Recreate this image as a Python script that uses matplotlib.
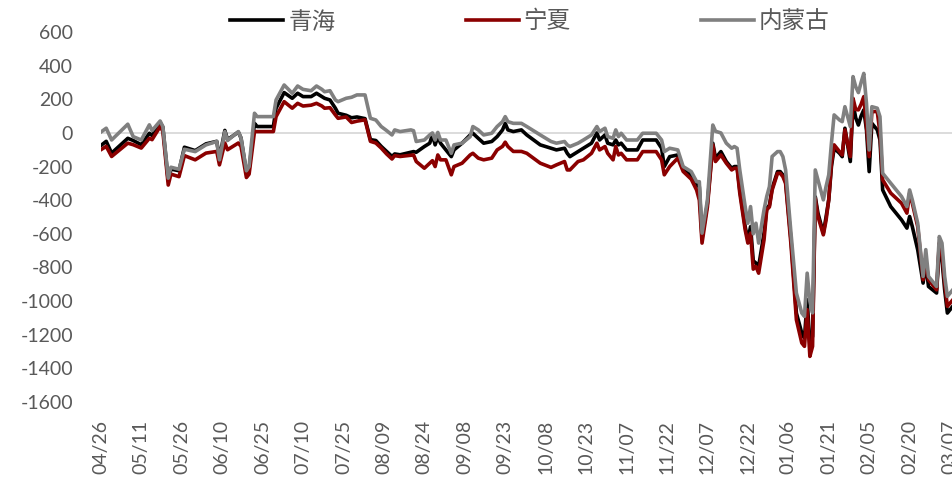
import matplotlib
matplotlib.use('Agg')
import matplotlib.pyplot as plt
import matplotlib.dates as mdates
import pandas as pd

# --- Data ---
dates = [
    '2022-04-26', '2022-04-28', '2022-04-30', '2022-05-06', '2022-05-08', '2022-05-11', '2022-05-14', '2022-05-15',
    '2022-05-18', '2022-05-19', '2022-05-21', '2022-05-22', '2022-05-25', '2022-05-27', '2022-05-31', '2022-06-04',
    '2022-06-08', '2022-06-09', '2022-06-11', '2022-06-12', '2022-06-16', '2022-06-17', '2022-06-19', '2022-06-20',
    '2022-06-22', '2022-06-23', '2022-06-29', '2022-06-30', '2022-07-03', '2022-07-06', '2022-07-08', '2022-07-10',
    '2022-07-13', '2022-07-15', '2022-07-17', '2022-07-18', '2022-07-20', '2022-07-22', '2022-07-23', '2022-07-26',
    '2022-07-28', '2022-07-30', '2022-08-02', '2022-08-04', '2022-08-06', '2022-08-08', '2022-08-10', '2022-08-12',
    '2022-08-13', '2022-08-15', '2022-08-19', '2022-08-20', '2022-08-21', '2022-08-24', '2022-08-26', '2022-08-27',
    '2022-08-28', '2022-08-29', '2022-08-30', '2022-09-01', '2022-09-03', '2022-09-04', '2022-09-07', '2022-09-10',
    '2022-09-11', '2022-09-13', '2022-09-15', '2022-09-18', '2022-09-20', '2022-09-22', '2022-09-23', '2022-09-24',
    '2022-09-26', '2022-09-29', '2022-10-01', '2022-10-06', '2022-10-10', '2022-10-12', '2022-10-15', '2022-10-16',
    '2022-10-17', '2022-10-20', '2022-10-22', '2022-10-25', '2022-10-27', '2022-10-28', '2022-10-30', '2022-10-31',
    '2022-11-02', '2022-11-03', '2022-11-04', '2022-11-05', '2022-11-07', '2022-11-11', '2022-11-13', '2022-11-18',
    '2022-11-20', '2022-11-21', '2022-11-23', '2022-11-26', '2022-11-28', '2022-12-01', '2022-12-03', '2022-12-04',
    '2022-12-05', '2022-12-07', '2022-12-09', '2022-12-10', '2022-12-12', '2022-12-14', '2022-12-16', '2022-12-17',
    '2022-12-18', '2022-12-19', '2022-12-21', '2022-12-22', '2022-12-23', '2022-12-24', '2022-12-25', '2022-12-26',
    '2022-12-28', '2022-12-29', '2022-12-30', '2022-12-31', '2023-01-02', '2023-01-03', '2023-01-04', '2023-01-05',
    '2023-01-07', '2023-01-09', '2023-01-11', '2023-01-12', '2023-01-13', '2023-01-14', '2023-01-15', '2023-01-16',
    '2023-01-17', '2023-01-19', '2023-01-20', '2023-01-21', '2023-01-22', '2023-01-23', '2023-01-25', '2023-01-26',
    '2023-01-27', '2023-01-29', '2023-01-30', '2023-01-31', '2023-02-01', '2023-02-02', '2023-02-03', '2023-02-04',
    '2023-02-05', '2023-02-06', '2023-02-08', '2023-02-09', '2023-02-10', '2023-02-13', '2023-02-17', '2023-02-19',
    '2023-02-20', '2023-02-21', '2023-02-23', '2023-02-25', '2023-02-26', '2023-02-27', '2023-03-02', '2023-03-03',
    '2023-03-04', '2023-03-05', '2023-03-06', '2023-03-08',
]

qinghai = [
    -75, -50, -120, -32, -45, -70, -2, -15,
    61, 35, -285, -215, -225, -85, -105, -65,
    -50, -150, 15, -40, 5, -30, -235, -215,
    57, 38, 38, 147, 240, 206, 236, 216,
    216, 236, 216, 206, 196, 147, 117, 105,
    90, 95, 85, -40, -45, -80, -110, -140,
    -125, -130, -115, -111, -115, -81, -61, -10,
    -71, -22, -61, -101, -141, -101, -61, -12,
    -2, -32, -61, -51, -22, 18, 57, 18,
    8, 18, -12, -71, -91, -101, -91, -121,
    -141, -111, -91, -61, 0, -42, -12, -61,
    -71, -42, -71, -61, -101, -101, -42, -42,
    -91, -200, -141, -131, -210, -255, -310, -320,
    -626, -420, -61, -150, -111, -170, -210, -200,
    -200, -339, -557, -636, -557, -760, -774, -794,
    -596, -448, -430, -330, -230, -230, -250, -290,
    -636, -1071, -1190, -1220, -992, -1260, -1210, -380,
    -477, -596, -500, -398, -200, -91, -121, -141,
    28, -170, 176, 90, 47, 100, 137, 18,
    -230, 57, 18, -42, -339, -438, -517, -566,
    -497, -557, -695, -893, -774, -913, -952, -675,
    -754, -933, -1071, -1031,
]

ningxia = [
    -100, -80, -140, -61, -70, -90, -32, -40,
    38, 10, -310, -245, -260, -135, -160, -120,
    -110, -190, -60, -100, -60, -80, -265, -245,
    8, 8, 8, 97, 186, 147, 176, 160,
    165, 176, 160, 147, 150, 107, 87, 95,
    62, 70, 78, -50, -60, -90, -125, -155,
    -135, -140, -133, -131, -170, -210, -180, -165,
    -200, -131, -160, -160, -249, -200, -180, -131,
    -121, -150, -160, -150, -101, -80, -55, -81,
    -110, -110, -121, -180, -205, -190, -170, -220,
    -220, -170, -160, -121, -61, -101, -81, -121,
    -160, -81, -131, -121, -160, -160, -111, -111,
    -160, -249, -200, -150, -229, -275, -340, -400,
    -655, -440, -71, -170, -131, -180, -220, -210,
    -210, -358, -576, -655, -596, -810, -794, -834,
    -636, -457, -440, -340, -240, -240, -260, -300,
    -665, -1111, -1249, -1269, -1051, -1329, -1269, -390,
    -497, -606, -520, -398, -180, -71, -111, -131,
    18, -141, 206, 140, 137, 170, 216, 38,
    -141, 127, 127, 0, -279, -358, -418, -477,
    -358, -418, -557, -873, -754, -873, -933, -655,
    -715, -893, -1031, -993,
]

neimenggu = [
    5, 28, -42, 52, -22, -42, 48, 14,
    71, 38, -269, -204, -216, -97, -111, -71,
    -51, -160, 8, -45, 8, -30, -225, -200,
    117, 97, 97, 196, 285, 236, 279, 259,
    251, 279, 259, 245, 251, 196, 186, 206,
    212, 226, 226, 87, 77, 38, 14, -12,
    18, 8, 18, 13, -51, -42, -12, 0,
    -42, 3, -42, -42, -121, -71, -61, -22,
    38, 18, -12, -2, 38, 67, 97, 67,
    57, 57, 38, -12, -51, -61, -51, -71,
    -81, -61, -42, -12, 38, 8, 28, -22,
    -32, 18, -22, -2, -42, -42, -2, -2,
    -42, -111, -91, -101, -200, -230, -290, -290,
    -596, -400, 47, 10, 0, -61, -91, -81,
    -91, -220, -438, -537, -438, -600, -537, -655,
    -457, -378, -319, -140, -111, -111, -141, -220,
    -596, -952, -1071, -1091, -834, -1000, -1070, -220,
    -279, -398, -319, -250, -61, 107, 77, 67,
    156, 38, 335, 275, 240, 300, 354, 176,
    -101, 156, 147, 97, -240, -299, -378, -438,
    -339, -398, -537, -853, -694, -853, -913, -616,
    -655, -853, -972, -933,
]

series_names = ['青海', '宁夏', '内蒙古']
series_colors = ['#000000', '#8B0000', '#808080']

x = pd.to_datetime(dates)
tick_dates = pd.date_range('2022-04-26', '2023-03-07', freq='15D')

plt.rcParams['font.family'] = ['Lato', 'Noto Sans CJK SC', 'DejaVu Sans']
plt.rcParams['axes.unicode_minus'] = False

fig = plt.figure(figsize=(9.53, 4.78), dpi=100)
ax = fig.add_axes([0.1058, 0.159, 0.8996, 0.774])

ax.axhline(0, color='#d9d9d9', linewidth=1.3, zorder=1)
for vals, name, col in zip([qinghai, ningxia, neimenggu], series_names, series_colors):
    ax.plot(x, vals, color=col, linewidth=2.6, label=name, zorder=2)

ax.set_ylim(-1600, 600)
ax.set_yticks(range(-1600, 601, 200))
ax.set_xlim(x[0], x[0] + pd.Timedelta(days=318))
ax.set_xticks(tick_dates)
ax.xaxis.set_major_formatter(mdates.DateFormatter('%m/%d'))
plt.setp(ax.get_xticklabels(), rotation=90)
ax.tick_params(length=0, labelsize=14, labelcolor='#595959')
ax.tick_params(axis='y', pad=20)
ax.tick_params(axis='x', pad=13)
for s in ax.spines.values():
    s.set_visible(False)

leg = fig.legend(loc='center', bbox_to_anchor=(530 / 953, 1 - 22 / 478), ncol=3, frameon=False,
                 handlelength=2.25, handletextpad=0.21, columnspacing=5.5,
                 prop={'family': ['Noto Sans CJK SC'], 'size': 17})
for t in leg.get_texts():
    t.set_color('#595959')

fig.savefig('out.png', dpi=100)
